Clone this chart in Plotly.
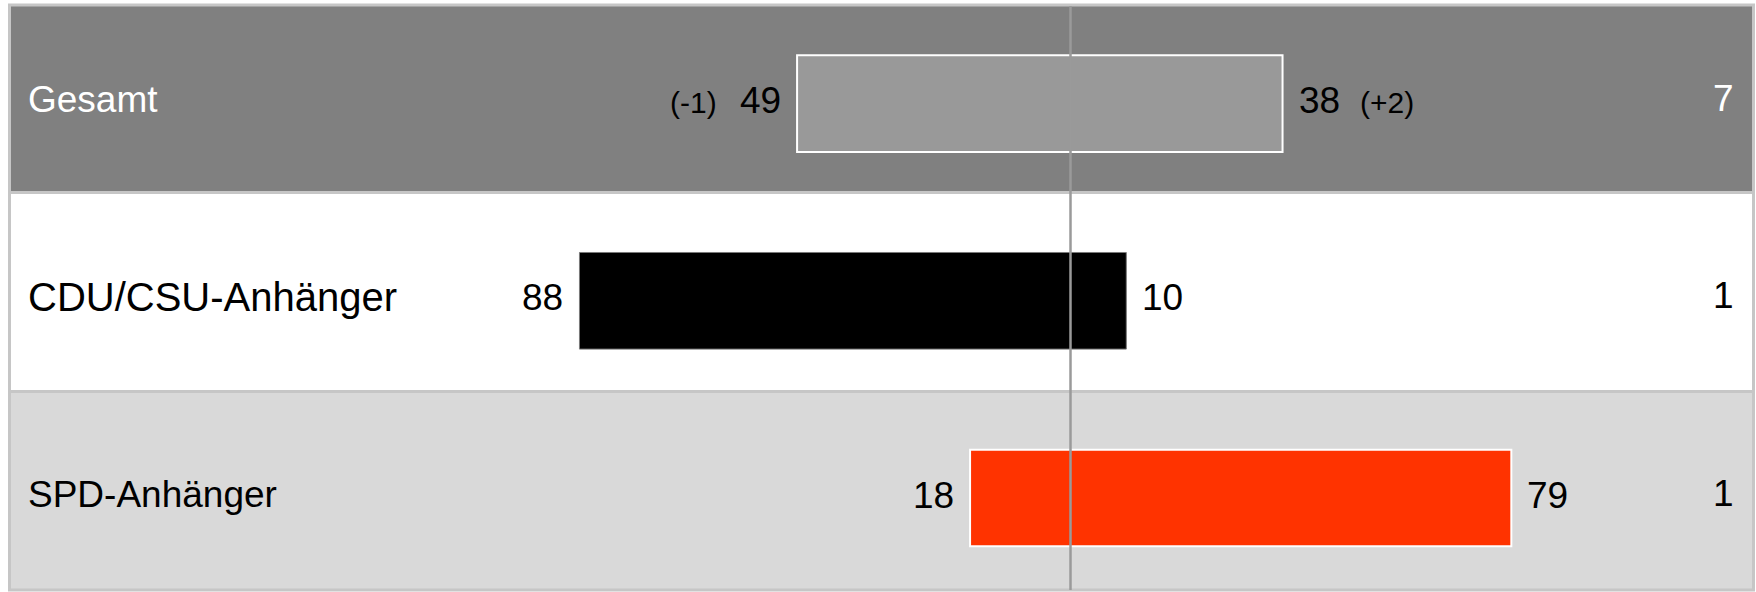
import plotly.graph_objects as go

# ---- data ----
categories = ["Gesamt", "CDU/CSU-Anhänger", "SPD-Anhänger"]
left_vals = [49, 88, 18]
right_vals = [38, 10, 79]
other_vals = [7, 1, 1]
left_change = ["(-1)", "", ""]
right_change = ["(+2)", "", ""]

bar_colors = ["#999999", "#000000", "#ff3300"]
bar_line_colors = ["#ffffff", "#7a7a7a", "#ffffff"]
bar_line_widths = [2, 1, 2]
row_fills = ["#808080", "#ffffff", "#d9d9d9"]
label_colors = ["#ffffff", "#000000", "#000000"]
label_sizes = [37, 40, 37]

W, H = 1756, 592
FONT = "Arial, Liberation Sans, sans-serif"

fig = go.Figure()
fig.add_trace(go.Bar(
    y=categories,
    base=[-v for v in left_vals],
    x=[l + r for l, r in zip(left_vals, right_vals)],
    orientation="h",
    width=0.49,
    marker=dict(color=bar_colors,
                line=dict(color=bar_line_colors, width=bar_line_widths)),
    hoverinfo="skip",
    showlegend=False,
))

# row backgrounds (pixel edges of the table rows)
row_edges = [(5, 192.5), (192.5, 391.5), (391.5, 590)]
shapes = []
for (y0, y1), fill in zip(row_edges, row_fills):
    shapes.append(dict(type="rect", xref="paper", yref="paper",
                       x0=9.5 / W, x1=1753.5 / W,
                       y0=1 - y1 / H, y1=1 - y0 / H,
                       fillcolor=fill, line=dict(color="#c6c6c6", width=3),
                       layer="below"))
# centre line
shapes.append(dict(type="line", xref="x", yref="paper", x0=0, x1=0,
                   y0=1 - 590 / H, y1=1 - 6 / H,
                   line=dict(color="#9a9a9a", width=2.5), layer="above"))

ann = []
for i, cat in enumerate(categories):
    ann.append(dict(x=26 / W, xref="paper", y=cat, yref="y", yshift=4,
                    text=cat, showarrow=False, xanchor="left",
                    font=dict(family=FONT, size=label_sizes[i], color=label_colors[i])))
    ann.append(dict(x=-left_vals[i], xref="x", y=cat, yref="y",
                    text=str(left_vals[i]), showarrow=False, xanchor="right",
                    xshift=-14, yshift=3,
                    font=dict(family=FONT, size=37, color="#000000")))
    ann.append(dict(x=right_vals[i], xref="x", y=cat, yref="y",
                    text=str(right_vals[i]), showarrow=False, xanchor="left",
                    xshift=14, yshift=3,
                    font=dict(family=FONT, size=37, color="#000000")))
    if left_change[i]:
        ann.append(dict(x=-left_vals[i], xref="x", y=cat, yref="y",
                        text=left_change[i], showarrow=False, xanchor="right",
                        xshift=-78, yshift=1,
                        font=dict(family=FONT, size=30, color="#000000")))
    if right_change[i]:
        ann.append(dict(x=right_vals[i], xref="x", y=cat, yref="y",
                        text=right_change[i], showarrow=False, xanchor="left",
                        xshift=75, yshift=1,
                        font=dict(family=FONT, size=30, color="#000000")))
    ann.append(dict(x=1736 / W, xref="paper", y=cat, yref="y", yshift=5,
                    text=str(other_vals[i]), showarrow=False, xanchor="right",
                    font=dict(family=FONT, size=37, color=label_colors[i])))

center_px = 1070.5
px_per_unit = 5.58
pitch = 197.2
first_center = 103.6

fig.update_layout(
    width=W, height=H,
    margin=dict(l=0, r=0, t=0, b=0),
    paper_bgcolor="#ffffff", plot_bgcolor="rgba(0,0,0,0)",
    shapes=shapes, annotations=ann,
    showlegend=False,
    xaxis=dict(range=[-center_px / px_per_unit, (W - center_px) / px_per_unit],
               showgrid=False, zeroline=False, showticklabels=False,
               fixedrange=True),
    yaxis=dict(range=[(H - first_center) / pitch, -first_center / pitch],
               type="category", categoryorder="array", categoryarray=categories,
               showgrid=False, zeroline=False, showticklabels=False,
               fixedrange=True),
)

fig.write_html("out.html", config={"displayModeBar": False},
               post_script="document.body.style.margin='0';document.body.style.overflow='hidden';")
